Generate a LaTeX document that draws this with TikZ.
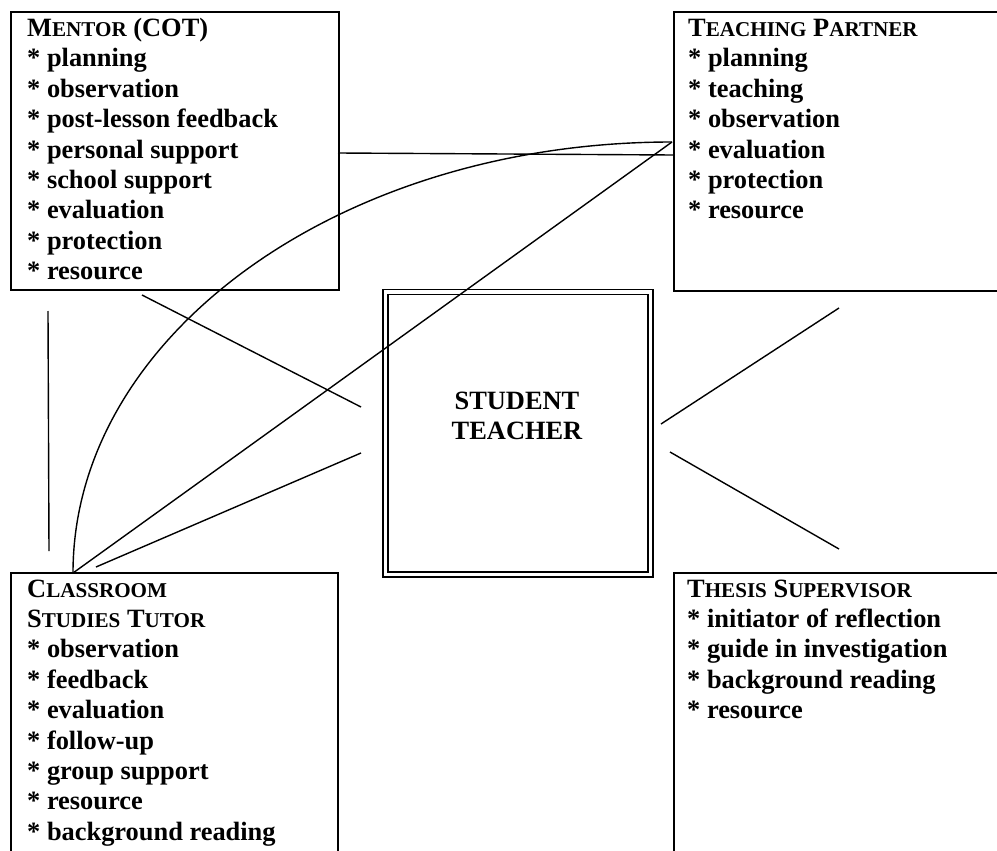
\documentclass[tikz,border=0pt]{standalone}
\usepackage{fontspec}
\setmainfont{Liberation Serif}
\newcommand\fsc[2]{#1{\fontsize{21.1}{21.1}\selectfont #2}}
\tikzset{
  box/.style={draw, line width=2pt, rectangle, anchor=north west, inner sep=0pt},
  dbox/.style={draw, line width=1.5pt, double, double distance=3.5pt, rectangle, anchor=north west, inner sep=0pt},
  con/.style={line width=1.4pt},
  txt/.style={anchor=base west, align=left, inner sep=0pt, font=\bfseries\fontsize{26.4}{30.4}\selectfont},
  ctxt/.style={anchor=base, align=center, inner sep=0pt, font=\bfseries\fontsize{26.4}{30.4}\selectfont},
}
\begin{document}
\begin{tikzpicture}[x=1pt,y=-1pt]
\useasboundingbox (0,0) rectangle (997,851);
\clip (0,0) rectangle (997,851);
% boxes
\node[box, minimum width=328pt, minimum height=278pt] (mentor) at (10,11) {};
\node[box, minimum width=340pt, minimum height=279pt] (tp) at (673,11) {};
\node[box, minimum width=327pt, minimum height=330pt] (cst) at (10,572) {};
\node[box, minimum width=340pt, minimum height=330pt] (ts) at (673,572) {};
\node[dbox, minimum width=265pt, minimum height=282.5pt] (st) at (384.5,291) {};
% texts (anchor = baseline of the last line)
\node[txt] (mentortxt) at (27,279.7) {\fsc{M}{ENTOR} (COT)\\
* planning\\
* observation\\
* post-lesson feedback\\
* personal support\\
* school support\\
* evaluation\\
* protection\\
* resource};
\node[txt] (tptxt) at (688,218.9) {\fsc{T}{EACHING} \fsc{P}{ARTNER}\\
* planning\\
* teaching\\
* observation\\
* evaluation\\
* protection\\
* resource};
\node[txt] (csttxt) at (27,840.2) {\fsc{C}{LASSROOM}\\
\fsc{S}{TUDIES} \fsc{T}{UTOR}\\
* observation\\
* feedback\\
* evaluation\\
* follow-up\\
* group support\\
* resource\\
* background reading};
\node[txt] (tstxt) at (687,718.6) {\fsc{T}{HESIS} \fsc{S}{UPERVISOR}\\
* initiator of reflection\\
* guide in investigation\\
* background reading\\
* resource};
\node[ctxt] (sttxt) at (517,439.4) {STUDENT\\TEACHER};
% connector end points
\coordinate (m1) at (142,295);
\coordinate (s1) at (361,407);
\coordinate (v1) at (48,311);
\coordinate (v2) at (49,551);
\coordinate (c0) at (73,573);
\coordinate (t0) at (672,142);
\coordinate (c1) at (96,567);
\coordinate (s2) at (361,453);
\coordinate (s3) at (661,424);
\coordinate (r1) at (839,308);
\coordinate (s4) at (670,452);
\coordinate (r2) at (839,549);
\coordinate (mh) at (338,153);
\coordinate (th) at (673,155);
% connectors
\draw[con] (mh) -- (th);
\draw[con] (m1) -- (s1);
\draw[con] (v1) -- (v2);
\draw[con] (c0) .. controls (73,335) and (341,142) .. (t0);
\draw[con] (c0) -- (t0);
\draw[con] (c1) -- (s2);
\draw[con] (s3) -- (r1);
\draw[con] (s4) -- (r2);
\end{tikzpicture}
\end{document}
